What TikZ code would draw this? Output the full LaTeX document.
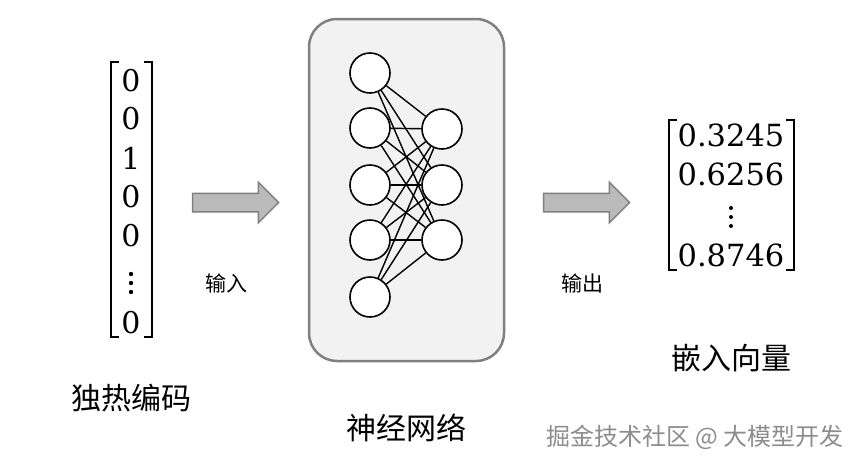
\documentclass[tikz,border=0pt]{standalone}
\usepackage{fontspec}
\newfontfamily\cjk{Noto Sans CJK SC}
\newfontfamily\numfont{DejaVu Serif}
\usetikzlibrary{shapes.arrows}
\tikzset{
  neuron/.style={circle,draw,fill=white,line width=1.6pt,minimum size=40pt,inner sep=0pt},
  bigarrow/.style={single arrow,draw=black!50,fill=black!27,line width=1.5pt,
    minimum height=86pt,inner sep=8.5pt,single arrow head extend=11pt},
  entry/.style={inner sep=0pt,font=\numfont\fontsize{30}{30}\selectfont},
  bigentry/.style={inner sep=0pt,font=\numfont\fontsize{30.5}{30.5}\selectfont},
  bracket/.style={line width=2.4pt},
  biglabel/.style={inner sep=0pt,font=\cjk\fontsize{30}{30}\selectfont},
  smalllabel/.style={inner sep=0pt,font=\cjk\fontsize{21}{21}\selectfont}
}
\begin{document}
\begin{tikzpicture}[x=1pt,y=-1pt]
  \useasboundingbox (0,0) rectangle (865,469);
  % one-hot vector
  \foreach \v/\y [count=\i] in {0/81,0/119,1/158,0/197,0/236,0/323}
    \node[entry] (x\i) at (131,\y) {\v};
  \foreach \y in {274,283,292}
    \fill (131,\y) circle (2.2pt);
  \draw[bracket] (119,62) -| (111,337) -- (119,337);
  \draw[bracket] (144,62) -| (152,337) -- (144,337);
  \node[biglabel] (onehot) at (131,398) {独热编码};

  \node[bigarrow] (arrowin) at (231,202.5) {};
  \node[smalllabel] (inlabel) at (226,283) {输入};

  % network
  \node[draw=black!50,fill=black!5,line width=2.5pt,rounded corners=28pt,
    minimum width=195pt,minimum height=342pt] (net) at (406.5,190) {};
  \foreach \y [count=\i] in {73,128,185,240,297}
    \node[neuron] (a\i) at (370,\y) {};
  \foreach \y [count=\i] in {129,185,240}
    \node[neuron] (b\i) at (442,\y) {};
  \foreach \i in {1,...,5}
    \foreach \j in {1,2,3}
      \draw[line width=1.4pt] (a\i) -- (b\j);
  \node[biglabel] (netlabel) at (406,428) {神经网络};

  \node[bigarrow] (arrowout) at (582,202.5) {};
  \node[smalllabel] (outlabel) at (582,283) {输出};

  % embedding vector
  \foreach \v/\y [count=\i] in {0.3245/135,0.6256/174,0.8746/255}
    \node[bigentry] (e\i) at (731,\y) {\v};
  \foreach \y in {208,217,226}
    \fill (731,\y) circle (2pt);
  \draw[bracket] (677,120) -| (669,270) -- (677,270);
  \draw[bracket] (786,120) -| (794,270) -- (786,270);
  \node[biglabel] (emb) at (731,358) {嵌入向量};

  \node[inner sep=0pt,text=black!45,font=\cjk\fontsize{24}{24}\selectfont]
    (mark) at (695,437) {掘金技术社区 @ 大模型开发};
\end{tikzpicture}
\end{document}
